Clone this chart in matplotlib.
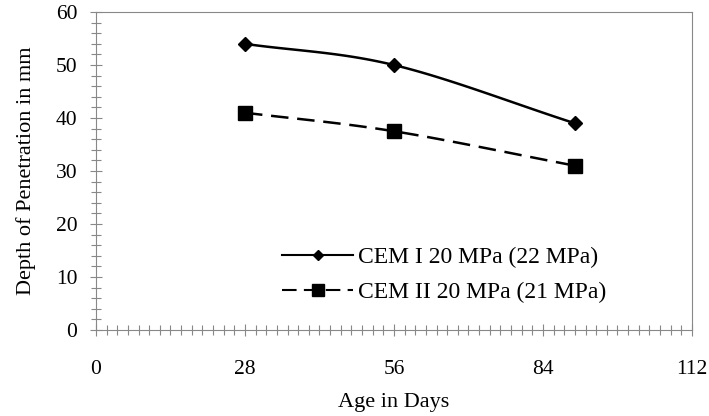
import matplotlib
matplotlib.use('Agg')
import matplotlib.pyplot as plt
import numpy as np
from matplotlib.ticker import MultipleLocator

plt.rcParams['font.family'] = ['Liberation Serif', 'DejaVu Serif']

days = [28, 56, 90]
cem1 = [54, 50, 39]
cem2 = [41, 37.5, 31]
labels = ['CEM I 20 MPa (22 MPa)', 'CEM II 20 MPa (21 MPa)']


def smooth(x, y, n=40):
    # Catmull-Rom curve through the points, like Excel's smoothed line
    x = np.asarray(x, float)
    y = np.asarray(y, float)
    px = np.concatenate([[2 * x[0] - x[1]], x, [2 * x[-1] - x[-2]]])
    py = np.concatenate([[2 * y[0] - y[1]], y, [2 * y[-1] - y[-2]]])
    xs, ys = [], []
    t = np.linspace(0, 1, n)
    for i in range(1, len(px) - 2):
        for p, out in ((px, xs), (py, ys)):
            p0, p1, p2, p3 = p[i - 1], p[i], p[i + 1], p[i + 2]
            out.extend(0.5 * (2 * p1 + (-p0 + p2) * t
                              + (2 * p0 - 5 * p1 + 4 * p2 - p3) * t ** 2
                              + (-p0 + 3 * p1 - 3 * p2 + p3) * t ** 3))
    return xs, ys


fig = plt.figure(figsize=(7.09, 4.16), dpi=100)
ax = fig.add_axes([0.1354, 0.207, 0.8406, 0.764])

sx, sy = smooth(days, cem1)
ax.plot(sx, sy, color='black', lw=1.8)
ax.plot(days, cem1, linestyle='none', marker='D', ms=7, color='black')
ax.plot([], [], color='black', lw=1.5, marker='D', ms=5, label=labels[0])

sx, sy = smooth(days, cem2)
ax.plot(sx, sy, color='black', lw=1.8, dashes=(7, 3.5))
ax.plot(days, cem2, linestyle='none', marker='s', ms=10, color='black')
ax.plot([], [], color='black', lw=1.5, dashes=(7, 3.5), marker='s', ms=8,
        label=labels[1])

ax.set_xlim(0, 112)
ax.set_ylim(0, 60)
ax.xaxis.set_major_locator(MultipleLocator(28))
ax.xaxis.set_minor_locator(MultipleLocator(2))
ax.yaxis.set_major_locator(MultipleLocator(10))
ax.yaxis.set_minor_locator(MultipleLocator(2))

for s in ax.spines.values():
    s.set_color('#888888')
    s.set_linewidth(0.8)
ax.tick_params(which='major', direction='inout', length=9, width=0.8,
               color='#888888', labelsize=15.5, top=False, right=False)
ax.tick_params(which='minor', direction='inout', length=7, width=0.8,
               color='#888888', top=False, right=False)
ax.tick_params(axis='x', which='major', pad=17)
ax.tick_params(axis='y', which='major', pad=9)

ax.set_xlabel('Age in Days', fontsize=16, labelpad=10)
ax.set_ylabel('Depth of Penetration in mm', fontsize=16, labelpad=14)

ax.legend(loc='lower left', bbox_to_anchor=(0.277, 0.018), frameon=False,
          fontsize=17, handlelength=3.0, handletextpad=0.2, labelspacing=0.55)

fig.savefig('out.png', dpi=100)
